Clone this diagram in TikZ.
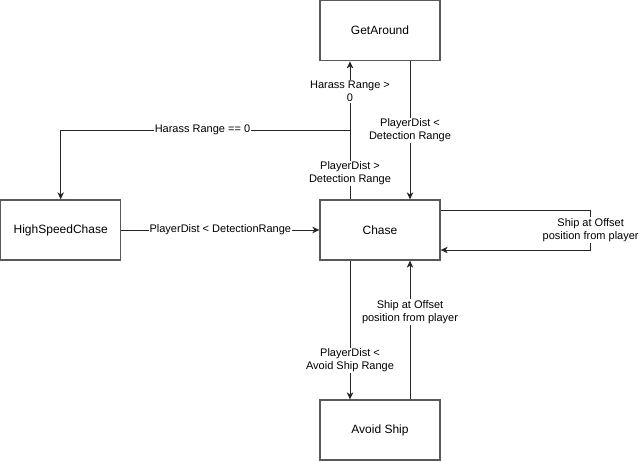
\documentclass[tikz,border=0pt]{standalone}
\usepackage{fontspec}
\setmainfont{Liberation Sans}
\usetikzlibrary{arrows.meta}

\begin{document}
\begin{tikzpicture}[x=1pt,y=-1pt,
    state/.style={draw=black!65,line width=1.3pt,minimum width=120pt,minimum height=60pt,inner sep=0pt,font=\fontsize{12}{14}\selectfont},
    lbl/.style={fill=white,inner sep=1pt,align=center,font=\fontsize{11}{13}\selectfont},
    edge/.style={draw=black!85,line width=1pt,-{Stealth[length=7pt,width=6.5pt,inset=2pt]}}]

    \useasboundingbox (0,0) rectangle (639,461);

    \node[state] (around) at (380,30.7) {GetAround};
    \node[state] (chase) at (380,230) {Chase};
    \node[state] (fast) at (60.7,230) {HighSpeedChase};
    \node[state] (avoid) at (380,430) {Avoid Ship};

    \coordinate (split) at (350,130);

    \draw [edge] ([xshift=-30pt]chase.north)
        -- node[lbl,pos=0.19] {PlayerDist >\\Detection Range}
           node[lbl,pos=0.78] {Harass Range >\\0} ([xshift=-30pt]around.south);
    \draw [edge] (split) -| node[lbl,pos=0.255] {Harass Range == 0} (fast.north);
    \draw [edge] ([xshift=30pt]around.south)
        -- node[lbl] {PlayerDist <\\Detection Range} ([xshift=30pt]chase.north);
    \draw [edge] (fast) -- node[lbl] {PlayerDist < DetectionRange} (chase);

    \draw [edge] ([yshift=20pt]chase.east) -- ++(150,0)
        -- node[lbl] {Ship at Offset\\position from player} ++(0,40)
        -- ([yshift=-20pt]chase.east); %loop

    \draw [edge] ([xshift=-30pt]chase.south)
        -- node[lbl,pos=0.72] {PlayerDist <\\Avoid Ship Range} ([xshift=-30pt]avoid.north);
    \draw [edge] ([xshift=30pt]avoid.north)
        -- node[lbl,pos=0.63] {Ship at Offset\\position from player} ([xshift=30pt]chase.south);
\end{tikzpicture}
\end{document}
